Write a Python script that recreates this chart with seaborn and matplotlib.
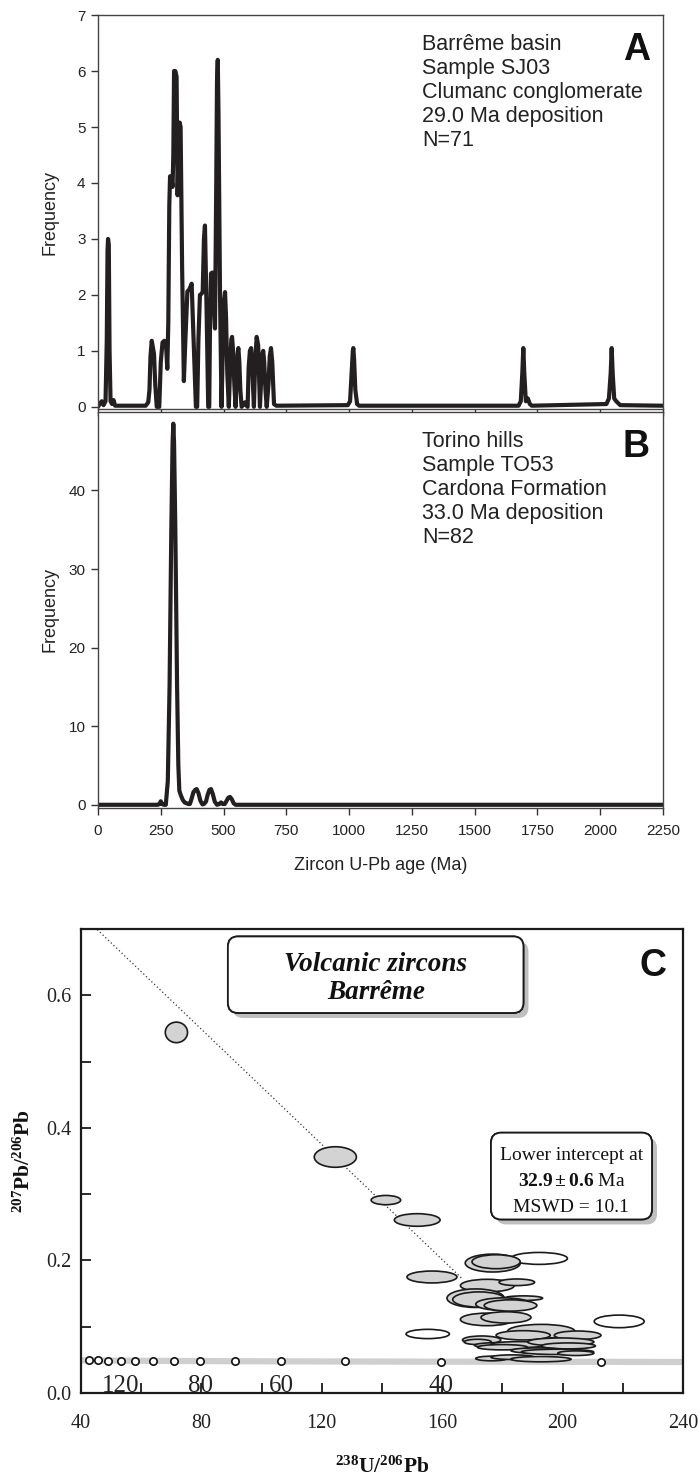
import numpy as np
import pandas as pd
import matplotlib.pyplot as plt
import matplotlib.patheffects as pe
from matplotlib.patches import Ellipse, FancyBboxPatch
from matplotlib.ticker import MultipleLocator
import seaborn as sns

# panel A : Barreme basin, sample SJ03 - probability curve (age Ma, frequency)
age_a = [0, 8, 15, 22, 30, 35, 38, 40, 43, 46, 50, 56, 62, 68,
         190, 200, 205, 209, 214, 219, 223, 228, 234,
         244, 250, 257, 264, 271, 276, 280, 284, 287, 292, 297, 300, 303, 308, 313, 317,
         321, 325, 329, 335, 342, 348, 356, 364, 373, 380, 390,
         395, 400, 406, 412, 417, 422, 426, 433, 439,
         443, 446, 450, 455, 459, 463, 466, 471, 474, 477, 480, 486, 492,
         497, 502, 506, 510, 515, 521, 527, 531, 534, 538, 543, 548, 553, 556, 559, 563,
         567, 572, 580, 585, 590, 596, 600, 605, 610, 614, 618, 621, 626, 632, 638, 645,
         650, 655, 658, 662, 667, 672, 679, 684, 689, 694, 701, 710,
         995, 1004, 1010, 1015, 1017, 1020, 1025, 1032, 1040,
         1675, 1684, 1690, 1694, 1698, 1704, 1712, 1720, 1728,
         2025, 2035, 2042, 2046, 2050, 2056, 2064, 2080, 2250]
freq_a = [0, 0.06, 0.1, 0.03, 0.1, 1.2, 2.8, 3.0, 2.9, 1.0, 0.1, 0.05, 0.12, 0.02,
          0.02, 0.08, 0.3, 0.9, 1.18, 1.05, 0.95, 0.4, 0.0,
          0.0, 0.8, 1.15, 1.18, 1.1, 0.68, 1.5, 3.6, 4.12, 4.1, 3.93, 4.5, 6.0, 6.0, 5.9, 3.78,
          4.6, 5.08, 5.0, 2.5, 0.46, 1.2, 2.06, 2.1, 2.2, 1.3, 0.0,
          0.0, 1.2, 2.0, 2.02, 2.05, 3.0, 3.24, 1.6, 0.0,
          0.0, 1.4, 2.38, 2.4, 2.35, 1.7, 1.4, 4.0, 5.8, 6.2, 5.2, 2.0, 0.0,
          1.0, 1.9, 2.05, 1.6, 0.6, 0.0, 0.8, 1.2, 1.25, 1.0, 0.4, 0.0, 0.6, 0.95, 1.05, 0.8,
          0.3, 0.0, 0.05, 0.08, 0.03, 0.0, 0.7, 1.0, 1.05, 0.8, 0.3, 0.0, 0.8, 1.25, 1.1, 0.0,
          0.5, 0.95, 1.0, 0.8, 0.3, 0.0, 0.4, 0.9, 1.05, 0.8, 0.05, 0.02,
          0.03, 0.1, 0.6, 1.0, 1.05, 0.85, 0.3, 0.05, 0.02,
          0.02, 0.1, 0.6, 1.05, 0.6, 0.1, 0.15, 0.05, 0.02,
          0.05, 0.15, 0.6, 1.05, 0.6, 0.15, 0.1, 0.03, 0.02]
lines_a = ['Barrême basin', 'Sample SJ03', 'Clumanc conglomerate', '29.0 Ma deposition', 'N=71']

# panel B : Torino hills, sample TO53
age_b = [0, 238, 245, 250, 255, 262, 270, 278, 285, 292, 297, 300, 303, 308, 315, 320,
         324, 330, 338, 345, 352, 360, 366, 373, 380, 387, 393, 400, 408, 416, 422, 430,
         437, 444, 450, 457, 465, 474, 483, 490, 497, 505, 512, 519, 526, 533, 540, 548, 2250]
freq_b = [0, 0, 0.1, 0.45, 0.1, 0, 0, 3, 15, 35, 46, 48.5, 46, 35, 15, 5,
          1.8, 1.2, 0.6, 0.3, 0.2, 0.1, 0.1, 0.8, 1.6, 1.9, 2.0, 1.5, 0.5, 0.05, 0.1, 0.4,
          1.3, 1.9, 2.0, 1.4, 0.4, 0.0, 0.1, 0.3, 0.1, 0.1, 0.5, 0.9, 1.0, 0.7, 0.2, 0.0, 0.0]
lines_b = ['Torino hills', 'Sample TO53', 'Cardona Formation', '33.0 Ma deposition', 'N=82']

# panel C : Tera-Wasserburg diagram
conc_age = [150, 140, 130, 120, 110, 100, 90, 80, 70, 60, 50, 40, 30]
conc_u = [42.6, 45.6, 49.0, 53.2, 58.1, 63.8, 71.0, 79.7, 91.2, 106.5, 127.8, 159.6, 212.9]
conc_pb = [0.0491, 0.0490, 0.0489, 0.0487, 0.0486, 0.0484, 0.0483, 0.0481, 0.0479,
           0.0477, 0.0475, 0.0472, 0.0470]
band_u = [40] + conc_u + [240]
band_pb = [0.0492] + conc_pb + [0.0467]
conc_lab = ['120', '80', '60', '40']
conc_lab_u = [53.2, 79.7, 106.5, 159.6]

disc_u = [44.5, 166.5]
disc_pb = [0.703, 0.173]

ell_u = [71.7, 124.5, 141.3, 151.7, 192.2, 176.8, 177.9, 156.6, 175.0, 184.8, 171.1, 172.2,
         187.0, 180.3, 182.7, 174.9, 181.2, 218.8, 155.2, 192.9, 186.9, 205.0, 173.1, 171.8,
         179.2, 185.6, 199.4, 201.9, 180.0, 191.7, 198.3, 204.4, 176.4, 183.4, 192.8]
ell_pb = [0.544, 0.356, 0.291, 0.261, 0.203, 0.196, 0.198, 0.175, 0.162, 0.167, 0.143, 0.141,
          0.143, 0.134, 0.132, 0.111, 0.114, 0.108, 0.089, 0.093, 0.087, 0.087, 0.080, 0.077,
          0.072, 0.073, 0.077, 0.071, 0.069, 0.064, 0.062, 0.060, 0.052, 0.054, 0.051]
ell_du = [7.4, 14.0, 9.8, 15.2, 18.8, 18.3, 16.0, 16.6, 17.9, 11.8, 19.0, 17.4,
          12.7, 18.3, 17.5, 17.7, 16.6, 16.6, 14.4, 22.4, 18.0, 15.5, 12.7, 9.0,
          17.0, 19.0, 22.0, 18.0, 16.6, 17.7, 24.0, 12.0, 10.5, 14.4, 20.0]
ell_dpb = [0.031, 0.031, 0.014, 0.019, 0.018, 0.027, 0.021, 0.018, 0.019, 0.010, 0.028, 0.023,
           0.007, 0.019, 0.017, 0.019, 0.017, 0.019, 0.014, 0.021, 0.014, 0.013, 0.012, 0.008,
           0.008, 0.009, 0.012, 0.009, 0.008, 0.008, 0.008, 0.007, 0.007, 0.007, 0.008]
ell_grey = [1, 1, 1, 1, 0, 1, 1, 1, 1, 1, 1, 1,
            1, 1, 1, 1, 1, 0, 0, 1, 1, 1, 1, 1,
            1, 1, 1, 1, 1, 1, 1, 1, 1, 1, 1]

sns.set_theme(style='ticks')
plt.rcParams['font.family'] = ['Liberation Sans', 'DejaVu Sans']
plt.rcParams['mathtext.fontset'] = 'custom'
plt.rcParams['mathtext.rm'] = 'Liberation Serif'
plt.rcParams['mathtext.bf'] = 'Liberation Serif:bold'
plt.rcParams['mathtext.it'] = 'Liberation Serif:italic'

ink = '#231f20'
serif = ['Liberation Serif', 'DejaVu Serif']

fig = plt.figure(figsize=(7, 14.8), dpi=100)
ax_a = fig.add_axes([0.14, 0.7236, 0.807, 0.2662])
ax_b = fig.add_axes([0.14, 0.4541, 0.807, 0.2676])
ax_c = fig.add_axes([0.1157, 0.0588, 0.86, 0.3135])

df_a = pd.DataFrame({'age': age_a, 'freq': freq_a})
df_b = pd.DataFrame({'age': age_b, 'freq': freq_b})
sns.lineplot(data=df_a, x='age', y='freq', ax=ax_a, color=ink, lw=3.0,
             estimator=None, sort=False, legend=False)
sns.lineplot(data=df_b, x='age', y='freq', ax=ax_b, color=ink, lw=3.0,
             estimator=None, sort=False, legend=False)

for ax in (ax_a, ax_b):
    ax.set_xlim(0, 2250)
    ax.set_xticks(np.arange(0, 2251, 250))
    ax.tick_params(direction='out', length=5, width=1, colors='#333333', labelsize=11,
                   labelcolor='#222222')
    ax.tick_params(axis='y', pad=4)
    ax.tick_params(axis='x', pad=6.5)
    for s in ax.spines.values():
        s.set_visible(True)
        s.set_linewidth(1.0)
        s.set_color('#444444')
    ax.set_ylabel('Frequency', fontsize=13, color='#222222')
    ax.yaxis.set_label_coords(-0.07, 0.5)

ax_a.set_ylim(-0.04, 7)
ax_a.set_yticks(range(0, 8))
ax_a.tick_params(axis='x', labelbottom=False)
ax_a.set_xlabel('')

ax_b.set_ylim(-0.4, 50)
ax_b.set_yticks(range(0, 41, 10))
ax_b.set_xlabel('Zircon U-Pb age (Ma)', fontsize=13, color='#222222')
ax_b.xaxis.set_label_coords(0.5, -0.124)

# sample descriptions, one line at a time (baselines 35 px + 24 px steps below the top)
for ax, lines, letter in ((ax_a, lines_a, 'A'), (ax_b, lines_b, 'B')):
    h_px = ax.get_position().height * 1480
    for i, txt in enumerate(lines):
        ax.text(1290, 1 - (35 + 24 * i) / h_px, txt, transform=ax.get_xaxis_transform(),
                ha='left', va='baseline', fontsize=15.5, color='#222222')
    ax.text(0.977, 1 - 45 / h_px, letter, transform=ax.transAxes, ha='right', va='baseline',
            fontsize=27, fontweight='bold', color='#111111')

# panel C
sns.lineplot(x=band_u, y=band_pb, ax=ax_c, color='#cfcfcf', lw=4.5, estimator=None,
             sort=True, zorder=2, legend=False)
sns.lineplot(x=disc_u, y=disc_pb, ax=ax_c, color='#333333', lw=0.9, linestyle=(0, (1, 2)),
             estimator=None, zorder=2, legend=False)
for u, pb, du, dpb, g in zip(ell_u, ell_pb, ell_du, ell_dpb, ell_grey):
    ax_c.add_patch(Ellipse((u, pb), du, dpb, facecolor='#d3d3d3' if g else 'white',
                           edgecolor='#1a1a1a', lw=1.2, zorder=3))
sns.scatterplot(x=conc_u, y=conc_pb, ax=ax_c, s=28, facecolor='white', edgecolor='#111111',
                linewidth=1.2, zorder=4, legend=False)
for lab, u in zip(conc_lab, conc_lab_u):
    ax_c.text(u, 0.002, lab, ha='center', va='baseline', fontsize=18, family=serif,
              color='#222222', zorder=4)

ax_c.set_xlim(40, 240)
ax_c.set_ylim(0, 0.7)
ax_c.xaxis.set_major_locator(MultipleLocator(40))
ax_c.xaxis.set_minor_locator(MultipleLocator(20))
ax_c.set_yticks([0, 0.2, 0.4, 0.6])
ax_c.set_yticklabels(['0.0', '0.2', '0.4', '0.6'])
ax_c.yaxis.set_minor_locator(MultipleLocator(0.1))
ax_c.tick_params(which='both', direction='in', length=7, width=1.3, colors='#1a1a1a',
                 labelsize=14.5, labelfontfamily='Liberation Serif', labelcolor='#222222',
                 top=False, right=False)
ax_c.tick_params(axis='x', which='both', pad=15)
ax_c.tick_params(axis='y', which='both', pad=7)
for s in ax_c.spines.values():
    s.set_visible(True)
    s.set_linewidth(1.6)
    s.set_color('#1a1a1a')
ax_c.set_xlabel(r'$\mathbf{{}^{238}U/{}^{206}Pb}$', fontsize=15.5, color='#111111')
ax_c.xaxis.set_label_coords(0.5, -0.137)
ax_c.set_ylabel(r'$\mathbf{{}^{207}Pb/{}^{206}Pb}$', fontsize=15.5, color='#111111')
ax_c.yaxis.set_label_coords(-0.076, 0.5)

shadow = [pe.withSimplePatchShadow(offset=(3.6, -3.6), shadow_rgbFace='0.75', alpha=1.0), pe.Normal()]
box1 = FancyBboxPatch((0.244, 0.819), 0.491, 0.165, boxstyle='round,pad=0,rounding_size=0.017',
                      mutation_aspect=1.3, transform=ax_c.transAxes, facecolor='white',
                      edgecolor='#1a1a1a', lw=1.3, zorder=5)
box1.set_path_effects(shadow)
ax_c.add_patch(box1)
ax_c.text(0.49, 0.893, 'Volcanic zircons\nBarrême', transform=ax_c.transAxes, ha='center',
          va='center', fontsize=19.5, family=serif, fontweight='bold', fontstyle='italic',
          linespacing=1.15, color='#111111', zorder=6)

box2 = FancyBboxPatch((0.681, 0.374), 0.2675, 0.187, boxstyle='round,pad=0,rounding_size=0.017',
                      mutation_aspect=1.3, transform=ax_c.transAxes, facecolor='white',
                      edgecolor='#1a1a1a', lw=1.3, zorder=5)
box2.set_path_effects(shadow)
ax_c.add_patch(box2)
ax_c.text(0.8145, 0.511, 'Lower intercept at', transform=ax_c.transAxes, ha='center',
          va='center', fontsize=14, family=serif, color='#111111', zorder=6)
ax_c.text(0.8145, 0.456, r'$\mathbf{32.9 \pm 0.6}$ Ma', transform=ax_c.transAxes, ha='center',
          va='center', fontsize=14, family=serif, color='#111111', zorder=6)
ax_c.text(0.8145, 0.400, 'MSWD = 10.1', transform=ax_c.transAxes, ha='center',
          va='center', fontsize=14, family=serif, color='#111111', zorder=6)
ax_c.text(0.973, 0.899, 'C', transform=ax_c.transAxes, ha='right', va='baseline',
          fontsize=27, fontweight='bold', color='#111111')

fig.savefig('out.png', dpi=100, facecolor='white')
